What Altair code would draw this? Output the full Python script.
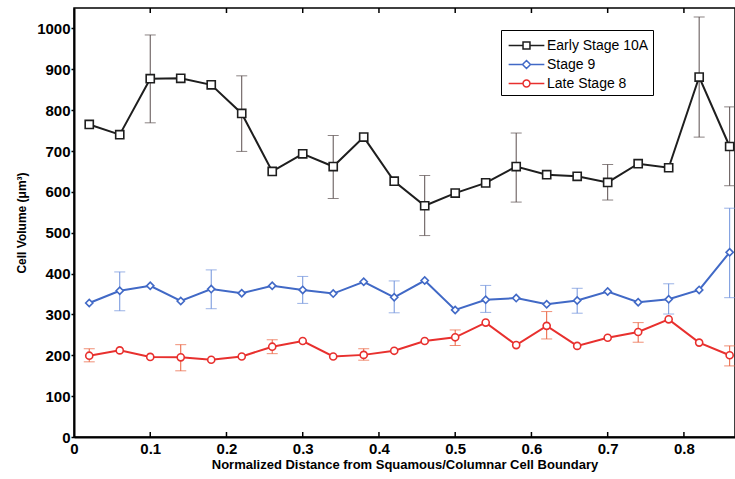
import altair as alt
import pandas as pd

# ---- data ----
x_pos = [0.02, 0.06, 0.10, 0.14, 0.18, 0.22, 0.26, 0.30, 0.34, 0.38, 0.42,
         0.46, 0.50, 0.54, 0.58, 0.62, 0.66, 0.70, 0.74, 0.78, 0.82, 0.86]

early10a = [765, 740, 877, 878, 862, 792, 650, 693, 662, 734, 626,
            566, 597, 622, 662, 642, 638, 623, 669, 659, 881, 711]
early10a_lo = [None, None, 769, None, None, 699, None, None, 584, None, None,
               493, None, None, 575, None, None, 580, None, None, 734, 615]
early10a_hi = [None, None, 984, None, None, 884, None, None, 738, None, None,
               640, None, None, 744, None, None, 667, None, None, 1028, 808]

stage9 = [328, 358, 370, 333, 362, 352, 370, 360, 351, 380, 342,
          383, 311, 336, 340, 325, 334, 356, 330, 337, 360, 452]
stage9_lo = [None, 309, None, None, 314, None, None, 327, None, None, 304,
             None, None, 305, None, None, 303, None, None, 301, None, 341]
stage9_hi = [None, 404, None, None, 409, None, None, 393, None, None, 382,
             None, None, 371, None, None, 364, None, None, 375, None, 560]

late8 = [199, 212, 196, 195, 189, 197, 221, 235, 197, 201, 211,
         235, 244, 280, 225, 272, 223, 243, 257, 288, 231, 200]
late8_lo = [184, None, None, 162, None, None, 204, None, None, 188, None,
            None, 224, None, None, 240, None, None, 232, None, None, 174]
late8_hi = [216, None, None, 226, None, None, 238, None, None, 216, None,
            None, 262, None, None, 307, None, None, 280, None, None, 223]

series_names = ["Early Stage 10A", "Stage 9", "Late Stage 8"]
series_colors = ["#1e1e1e", "#4169c6", "#e8302e"]
errbar_colors = ["#5a4e4e", "#6f92dc", "#ea5f3c"]
marker_shapes = ["square", "diamond", "circle"]
legend_paths = [
    "M-1.7,0H-0.33M0.33,0H1.7M-0.33,-0.33H0.33V0.33H-0.33Z",
    "M-1.7,0H-0.38M0.38,0H1.7M0,-0.38L0.38,0L0,0.38L-0.38,0Z",
    "M-1.7,0H-0.33M0.33,0H1.7M0.33,0A0.33,0.33 0 1,1 -0.33,0A0.33,0.33 0 1,1 0.33,0Z",
]
x_ticks = [0.1, 0.2, 0.3, 0.4, 0.5, 0.6, 0.7, 0.8]
y_ticks = [0, 100, 200, 300, 400, 500, 600, 700, 800, 900, 1000]

rows = []
for name, v, lo, hi in [
    (series_names[0], early10a, early10a_lo, early10a_hi),
    (series_names[1], stage9, stage9_lo, stage9_hi),
    (series_names[2], late8, late8_lo, late8_hi),
]:
    for xi, vi, l, h in zip(x_pos, v, lo, hi):
        rows.append({"x": xi, "v": vi, "lo": l, "hi": h, "series": name})
df = pd.DataFrame(rows)
err_df = df.dropna(subset=["lo", "hi"])
ticks_df = pd.DataFrame({"t": x_ticks})

FONT = "Liberation Sans"
W, H = 661, 429

x_scale = alt.Scale(domain=[0, 0.867], nice=False, zero=False)
y_scale = alt.Scale(domain=[0, 1050], nice=False)
x_axis = alt.Axis(values=[0] + x_ticks, ticks=False,
                  labelExpr="datum.value == 0 ? '0' : format(datum.value, '.1f')",
                  title="Normalized Distance from Squamous/Columnar Cell Boundary",
                  labelFontSize=15, labelFontWeight="bold", labelPadding=4,
                  titleFontSize=13, titleFontWeight="bold", titlePadding=2,
                  domainColor="black", domainWidth=2, grid=False,
                  labelColor="black", titleColor="black", labelFont=FONT, titleFont=FONT,
                  labelFlush=False)
y_axis = alt.Axis(values=y_ticks, format="d", tickSize=3, tickWidth=1.5, tickColor="black",
                  title="Cell Volume (μm³)", labelFontSize=15, labelFontWeight="bold",
                  labelPadding=1, titleFontSize=12, titleFontWeight="bold", titlePadding=8,
                  domainColor="black", domainWidth=2, grid=False,
                  labelColor="black", titleColor="black", labelFont=FONT, titleFont=FONT)

X = alt.X("x:Q", scale=x_scale, axis=x_axis)
Y = alt.Y("v:Q", scale=y_scale, axis=y_axis)
YLO = alt.Y("lo:Q", scale=y_scale, axis=y_axis)
YHI = alt.Y("hi:Q", scale=y_scale, axis=y_axis)
color_scale = alt.Scale(domain=series_names, range=series_colors)

base = alt.Chart(df)
err_base = alt.Chart(err_df)

err_layers = []
line_layers = []
point_layers = []
for name, col, ecol, shp, sz in zip(series_names, series_colors, errbar_colors,
                                    marker_shapes, [66, 52, 50]):
    esub = err_base.transform_filter(alt.datum.series == name)
    err_layers.append(esub.mark_rule(strokeWidth=1, color=ecol).encode(x=X, y=YLO, y2="hi:Q"))
    err_layers.append(esub.mark_tick(orient="horizontal", size=11, thickness=1, color=ecol)
                      .encode(x=X, y=YLO))
    err_layers.append(esub.mark_tick(orient="horizontal", size=11, thickness=1, color=ecol)
                      .encode(x=X, y=YHI))
    sub = base.transform_filter(alt.datum.series == name)
    line_layers.append(sub.mark_line(strokeWidth=2, color=col).encode(x=X, y=Y))
    point_layers.append(
        sub.mark_point(shape=shp, size=sz, filled=True, fill="white", stroke=col,
                       strokeWidth=1.6, opacity=1).encode(x=X, y=Y)
    )

legend_layer = base.mark_point(filled=False, strokeWidth=1.5, size=0).encode(
    x=X, y=Y,
    color=alt.Color("series:N", scale=color_scale,
                    legend=alt.Legend(title=None, orient="none", legendX=427, legendY=22,
                                      strokeColor="black", fillColor="white", padding=4,
                                      labelFont=FONT, labelFontSize=14, labelColor="black",
                                      symbolSize=441, symbolStrokeWidth=1.5, symbolOpacity=1,
                                      symbolFillColor="white", symbolOffset=10,
                                      labelOffset=9, rowPadding=0, labelLimit=300)),
    shape=alt.Shape("series:N", scale=alt.Scale(domain=series_names, range=legend_paths)),
)

tick_bottom = alt.Chart(ticks_df).mark_rule(color="black", strokeWidth=1.5).encode(
    x=alt.X("t:Q", scale=x_scale, axis=x_axis), y=alt.value(H), y2=alt.value(H - 5)
)
tick_top = alt.Chart(ticks_df).mark_rule(color="black", strokeWidth=1.5).encode(
    x=alt.X("t:Q", scale=x_scale, axis=x_axis), y=alt.value(0), y2=alt.value(5)
)

chart = alt.layer(
    tick_bottom, tick_top, *err_layers, *line_layers, *point_layers, legend_layer
).properties(
    width=W, height=H,
    autosize=alt.AutoSizeParams(type="none"),
    padding={"left": 74, "top": 8, "right": 0, "bottom": 42},
    background="white",
).configure_view(stroke="black", strokeWidth=1.5)

chart.save("out.html", embed_options={"renderer": "svg", "actions": False})
